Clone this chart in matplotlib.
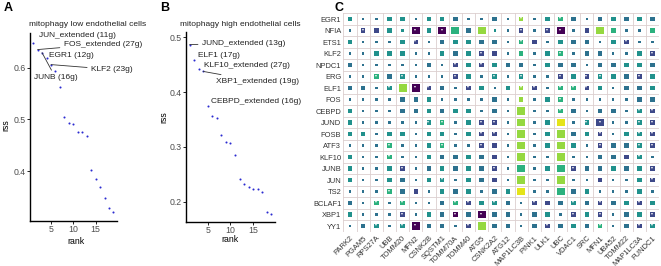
import matplotlib
matplotlib.use("Agg")
import matplotlib.pyplot as plt
import numpy as np

plt.rcParams['font.family'] = ['Liberation Sans', 'DejaVu Sans']

# ---- panel A / B data: regulon specificity scores ----
rank = list(range(1, 20))
rss_low = [0.648, 0.635, 0.629, 0.619, 0.606, 0.594, 0.563, 0.504, 0.494, 0.492,
           0.475, 0.475, 0.469, 0.402, 0.386, 0.369, 0.348, 0.329, 0.321]
rss_high = [0.487, 0.459, 0.443, 0.438, 0.375, 0.356, 0.353, 0.322, 0.310, 0.308,
            0.285, 0.242, 0.232, 0.227, 0.224, 0.224, 0.217, 0.181, 0.178]
labels_low = ["JUN_extended (11g)", "FOS_extended (27g)", "JUNB (16g)", "EGR1 (12g)", "KLF2 (23g)"]
labels_high = ["JUND_extended (13g)", "ELF1 (17g)", "KLF10_extended (27g)",
               "XBP1_extended (19g)", "CEBPD_extended (16g)"]

# ---- panel C data ----
tfs = ["EGR1", "NFIA", "ETS1", "KLF2", "NPDC1", "ERG", "ELF1", "FOS", "CEBPD", "JUND",
       "FOSB", "ATF3", "KLF10", "JUNB", "JUN", "TS2", "BCLAF1", "XBP1", "YY1"]
genes = ["PARK2", "PGAM5", "RPS27A", "UBB", "TOMM20", "MFN2", "CSNK2B", "SQSTM1",
         "TOMM70A", "TOMM40", "ATG5", "CSNK2A2", "ATG12", "MAP1LC3B", "PINK1", "ULK1",
         "UBC", "VDAC1", "SRC", "MFN1", "UBA52", "TOMM22", "MAP1LC3A", "FUNDC1"]
# cell code: colour level letter + size level digit (+ m = significance mark)
level = {"p": 0.0, "b": 0.22, "s": 0.37, "t": 0.50, "g": 0.64, "l": 0.84, "y": 0.96}
cells = [
    "t2 s1 s1 t2 t2 s1 t2 t2 s2 s1 s1 s2 s1 l2m s1 t2 g2m s2 s1 s2 t2 s2 t2 s2",
    "s1 b2m b2 t2 t1 p3m t2 p3m g3 s2 l3 t1 s1 b2m s1 b2m p3m s1 b2 l3 g2 s1 s1 g2",
    "t2 s1 s1 s1 t2 b2m s1 s2 t2 t2 s2 s2 s1 g2m b2 s1 t2 s2 s2 s1 t2 b2m s1 s1",
    "s1 s1 t2 t2 t2 s1 s1 t2 s2 t2 b2m b2 s1 g2 s1 t2 g2m s1 s2 s2 s1 s1 t2 b2m",
    "s2 s1 s1 s1 s1 s1 s2 s1 b2m t2 b2m t2 s2 s2 s1 t2 s2 s2 s1 s2 s2 t2 t2 s2",
    "s1 s1 g2m s2 t2m s1 s1 s1 b2m t2 s1 t2m s1 t2m s1 s1 b2m t2 b2m t2m t2 s2 b2m t2",
    "s2 s2 s1 t2m l3 p3m b2m s2 s1 b2m t2 s1 t2 l2m b2m s1 g2m g2m b2m t2 s1 s2 s2 t2",
    "s1 s1 s1 s1 s2 s2 t2 s1 s1 s1 s1 s2 s1 l2 s1 t2 g2m s1 s1 s1 s1 s1 s2 s2",
    "t2 s1 s1 s1 s2 s2 t2 s2 t2 t2 s1 s2 s1 l3 s1 s1 g2m s2 s1 s2 s2 s1 t2m b2m",
    "t2 s1 s1 s1 s1 s1 t2m g2m s1 t2 b2m b2m s1 l3 s1 t2 y3 s1 t2m b3m s1 s1 t2m b2m",
    "t2 t2 s1 t2 t2 s1 t2 t2 s1 t2 b2m b2m s1 l3 s1 t2 l3 s2 t2 b2m s1 t2 t2m b2m",
    "s1 s1 s1 g2m s1 s1 t2 g2m s1 s1 b2m b2 s1 l3 s1 t2 l3 t2 s1 b2m s2 s2 t2m b2m",
    "t2 s1 s1 g2m s1 s1 t2 s2 s2 t2 s2 b2 s1 l3 s1 s1 l3 s1 s1 s2 s2 b2 t2m s1",
    "t2 s1 s1 t2 b2m s1 s2 t2 s2 t2 s2 b2m s1 g3 s1 t2 g3 b2m s2 s2 t2 s2 t2 b2m",
    "t2 s1 s1 t2 s2 s1 t2 t2m s1 t2 s2 b2 s1 l3 s1 s1 l3 s1 s1 b2 s1 s1 t2 b2m",
    "s1 s1 s1 g2m s2 b2 s1 t2 s2 t2 s1 s2 t2 y3 s1 s1 g3 s2 t2 s1 s1 s1 t2 s1",
    "s2 s1 g2m s1 g2m s1 s1 s2 g2m b2m t2 t2m s2 s1 b2m b2 s2 t2m s2 b2m s2 t2 b2m t2",
    "t2 s1 s1 s1 b2m s1 t2 s2 p2m s2 p3m s2 s2 s1 s2 t2 s1 b2m t2 b2m s1 s2 t2 b2m",
    "s1 s2 t2m s1 t2m p3m s2 s2 s1 b2m l3 s2 s2 s1 s2 b2m s2 t2 s2 g2m s1 s2 b2m t2m",
]

W, H = 661, 266
fig = plt.figure(figsize=(W / 100, H / 100), dpi=100)


def px(x0, y0, x1, y1):
    return [x0 / W, 1 - y1 / H, (x1 - x0) / W, (y1 - y0) / H]


def rank_panel(ax, y, labels, offsets, ylim, yticks, xlim):
    ax.scatter(rank, y, s=2.2, color="#2b2bd0", linewidths=0, zorder=3)
    ax.set_xlim(*xlim)
    ax.set_ylim(*ylim)
    ax.set_xticks([5, 10, 15])
    ax.set_yticks(yticks)
    for sp in ["top", "right"]:
        ax.spines[sp].set_visible(False)
    for sp in ["left", "bottom"]:
        ax.spines[sp].set_linewidth(1.0)
    ax.tick_params(length=2, width=0.6, labelsize=6.3, labelcolor="#4d4d4d", pad=1)
    for i, (lab, (dx, dy, line)) in enumerate(zip(labels, offsets)):
        ax.annotate(lab, (rank[i], y[i]), xytext=(dx, dy), textcoords="offset points",
                    fontsize=6, color="#222222", ha="left", va="center",
                    arrowprops=dict(arrowstyle="-", color="#333333", lw=0.6,
                                    shrinkA=1, shrinkB=0) if line else None)


axA = fig.add_axes(px(30, 33, 117, 221))
rank_panel(axA, rss_low, labels_low,
           [(4, 5, False), (19, 4, True), (-6, -18, True), (1.5, 2, False), (29, -3.5, True)],
           (0.304, 0.667), [0.4, 0.5, 0.6], (0.3, 19.8))
axB = fig.add_axes(px(186, 32, 275, 222))
rank_panel(axB, rss_high, labels_high,
           [(9, 1, True), (3, 3, False), (3.5, 2.5, False), (9, -7, True), (2.5, 3, False)],
           (0.163, 0.51), [0.2, 0.3, 0.4, 0.5], (0.2, 19.8))

fig.text(29 / W, 1 - 24 / H, "mitophagy low endothelial cells", fontsize=6.0,
         color="#222222", va="center", ha="left")
fig.text(180 / W, 1 - 24 / H, "mitophagy high endothelial cells", fontsize=6.0,
         color="#222222", va="center", ha="left")
for x, y in [(6, 125), (164, 117)]:
    fig.text(x / W, 1 - y / H, "rss", rotation=90, fontsize=6.3, va="center", ha="center")
for x, y in [(76, 241), (230, 240)]:
    fig.text(x / W, 1 - y / H, "rank", fontsize=6.3, va="center", ha="center")
for x, lab in [(4, "A"), (160, "B"), (334, "C")]:
    fig.text(x / W, 1 - 8 / H, lab, fontsize=9, fontweight="bold", va="center", ha="left")

# ---- panel C ----
axC = fig.add_axes(px(343.4, 13.25, 659.3, 231.75))
cmap = plt.get_cmap("viridis")
size_pt = {1: 1.8, 2: 3.3, 3: 5.7}
xs, ys, cs, ss, marks = [], [], [], [], []
for r, row in enumerate(cells):
    for c, code in enumerate(row.split()):
        xs.append(c)
        ys.append(r)
        cs.append(level[code[0]])
        ss.append(size_pt[int(code[1])] ** 2)
        if code.endswith("m"):
            marks.append((c, r))
axC.scatter(xs, ys, c=cs, s=ss, marker="s", cmap=cmap, vmin=0, vmax=1,
            linewidths=0, zorder=3)
for c, r in marks:
    axC.text(c, r, "**", fontsize=2.8, color="white", ha="center", va="center",
             zorder=4, fontweight="bold")
for k in np.arange(-0.5, len(genes), 1.0):
    axC.axvline(k, color="#dccfcf", lw=0.6, zorder=1)
for k in np.arange(-0.5, len(tfs), 1.0):
    axC.axhline(k, color="#dccfcf", lw=0.6, zorder=1)
axC.set_xlim(-0.5, len(genes) - 0.5)
axC.set_ylim(len(tfs) - 0.5, -0.5)
axC.set_xticks(range(len(genes)))
axC.set_xticklabels(genes, rotation=45, ha="right", va="top", rotation_mode="anchor")
axC.set_yticks(range(len(tfs)))
axC.set_yticklabels(tfs)
axC.tick_params(length=0, labelsize=5.4, labelcolor="#333333", pad=1.5)
axC.tick_params(axis="x", pad=2)
for sp in axC.spines.values():
    sp.set_visible(False)

fig.savefig("out.png", dpi=100)
